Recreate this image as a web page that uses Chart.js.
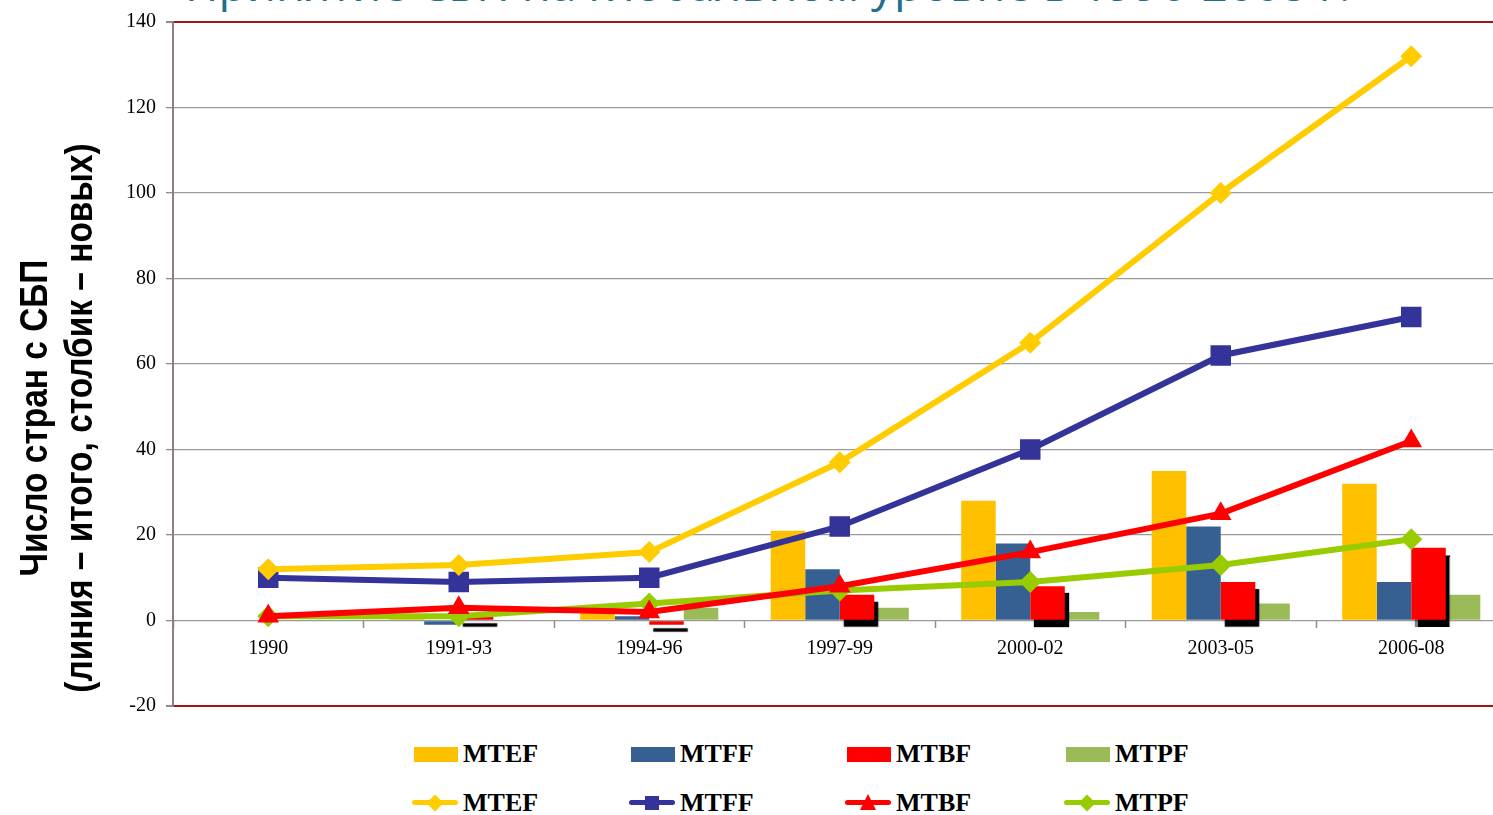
<!DOCTYPE html>
<html>
<head>
<meta charset="utf-8">
<script src="https://cdn.jsdelivr.net/npm/chart.js@4.4.1/dist/chart.umd.min.js"></script>
<style>
  body { margin: 0; width: 1493px; height: 815px; overflow: hidden; background: #fff; position: relative; }
  #myChart { position: absolute; left: 0; top: 0; }
  #title { position: absolute; left: 185px; top: -40px; font: 46px/46px "Open Sans", sans-serif; color: #1f6f8f; white-space: nowrap; }
  #ytitle { position: absolute; left: 57px; top: 418px; width: 700px; text-align: center; font: bold 38px/45px "Liberation Sans", Arial, sans-serif; color: #000; white-space: nowrap;
            transform: translate(-50%, -50%) rotate(-90deg) scaleX(0.88); }
  .leg { position: absolute; font: bold 26px "Liberation Serif", serif; color: #000; }
  .leg .txt { position: absolute; left: 49px; top: -15px; white-space: nowrap; }
  .sw { position: absolute; left: 0; top: -7px; width: 44px; height: 15px; }
  .ln { position: absolute; left: 0; top: -3px; width: 46px; height: 5px; border-radius: 3px; }
  .mk { position: absolute; }
</style>
</head>
<body>
<div id="title">Принятие СБП на глобальном уровне в 1990-2008 г.</div>
<canvas id="myChart" width="1521" height="728"></canvas>
<div id="ytitle">Число стран с СБП<br>(линия – итого, столбик – новых)</div>
<div id="legend"></div>
<script>
const ctx = document.querySelector('#myChart')

const periods = ['1990', '1991-93', '1994-96', '1997-99', '2000-02', '2003-05', '2006-08']
const seriesNames = ['MTEF', 'MTFF', 'MTBF', 'MTPF']

// столбики - новые страны
const newMTEF = [null, 1, 3, 21, 28, 35, 32]
const newMTFF = [null, -1, 1, 12, 18, 22, 9]
const newMTBF = [null, 1, -1, 6, 8, 9, 17]
const newMTPF = [null, 0, 3, 3, 2, 4, 6]

// линии - итого
const totalMTEF = [12, 13, 16, 37, 65, 100, 132]
const totalMTFF = [10, 9, 10, 22, 40, 62, 71]
const totalMTBF = [1, 3, 2, 8, 16, 25, 42]
const totalMTPF = [1, 1, 4, 7, 9, 13, 19]

const yTicks = [-20, 0, 20, 40, 60, 80, 100, 120, 140]

const barColors = ['#ffc000', '#376092', '#ff0000', '#9bbb59']
const lineColors = ['#ffcc00', '#333399', '#ff0000', '#99cc00']
const pointStyles = ['rectRot', 'rect', 'triangle', 'rectRot']
const pointSizes = [11, 14.5, 12.5, 11]

const newData = [newMTEF, newMTFF, newMTBF, newMTPF]
const totalData = [totalMTEF, totalMTFF, totalMTBF, totalMTPF]

let datasets = []
seriesNames.forEach((name, i) => {
    datasets.push({
        type: 'bar',
        label: name,
        data: newData[i],
        backgroundColor: barColors[i],
        borderWidth: 0,
        categoryPercentage: 0.725,
        barPercentage: 1,
        order: 2
    })
})
seriesNames.forEach((name, i) => {
    datasets.push({
        type: 'line',
        label: name,
        data: totalData[i],
        borderColor: lineColors[i],
        backgroundColor: lineColors[i],
        borderWidth: 6,
        pointStyle: pointStyles[i],
        pointRadius: pointSizes[i],
        pointBorderWidth: 0,
        tension: 0,
        fill: false,
        order: 1
    })
})

// тень у красных столбиков
const barShadow = {
    id: 'barShadow',
    beforeDatasetDraw(chart, args) {
        if (args.index === 2) {
            chart.ctx.save()
            chart.ctx.shadowColor = 'rgba(0,0,0,1)'
            chart.ctx.shadowOffsetX = 4
            chart.ctx.shadowOffsetY = 7
            chart.ctx.shadowBlur = 1
        }
    },
    afterDatasetDraw(chart, args) {
        if (args.index === 2) chart.ctx.restore()
    }
}

const tickFont = { family: 'Liberation Serif', size: 20 }

new Chart(ctx, {
    data: { labels: periods, datasets: datasets },
    plugins: [barShadow],
    options: {
        responsive: false,
        devicePixelRatio: 1,
        animation: false,
        layout: { padding: { top: 8, right: 3, bottom: 3, left: 0 } },
        plugins: {
            legend: { display: false },
            tooltip: { enabled: false }
        },
        scales: {
            x: {
                type: 'category',
                offset: true,
                position: { y: 0 },
                border: { display: false },
                grid: { drawOnChartArea: false, offset: true, tickLength: 7, tickColor: '#8c8c8c', tickWidth: 1.5 },
                ticks: { font: tickFont, color: '#000', padding: 9, maxRotation: 0 }
            },
            y: {
                min: -20,
                max: 140,
                afterBuildTicks: (scale) => { scale.ticks = yTicks.map(v => ({ value: v })) },
                afterFit: (scale) => { scale.width = 173 },
                border: { color: '#8c7f7f', width: 2 },
                grid: {
                    color: (c) => (c.tick && (c.tick.value === 140 || c.tick.value === -20)) ? '#a31515' : '#9a9a9a',
                    lineWidth: (c) => (c.tick && (c.tick.value === 140 || c.tick.value === -20)) ? 2 : 1.3,
                    tickLength: 7,
                    tickColor: '#8c8c8c'
                },
                ticks: { font: tickFont, color: '#000', padding: 10 }
            }
        }
    }
})

// легенда
const legend = document.querySelector('#legend')
const colX = [414, 631, 847, 1066]
seriesNames.forEach((name, i) => {
    let a = document.createElement('div')
    a.className = 'leg'
    a.style.left = colX[i] + 'px'
    a.style.top = '754px'
    a.innerHTML = '<div class="sw" style="background:' + barColors[i] + '"></div><div class="txt">' + name + '</div>'
    legend.appendChild(a)

    let b = document.createElement('div')
    b.className = 'leg'
    b.style.left = (colX[i] - 2) + 'px'
    b.style.top = '803px'
    let mk = ''
    if (pointStyles[i] === 'rectRot') {
        mk = '<div class="mk" style="left:17px;top:-6px;width:12px;height:12px;transform:rotate(45deg);background:' + lineColors[i] + '"></div>'
    } else if (pointStyles[i] === 'rect') {
        mk = '<div class="mk" style="left:16px;top:-7px;width:14px;height:14px;background:' + lineColors[i] + '"></div>'
    } else {
        mk = '<div class="mk" style="left:15px;top:-9px;width:0;height:0;border-left:8px solid transparent;border-right:8px solid transparent;border-bottom:16px solid ' + lineColors[i] + '"></div>'
    }
    b.innerHTML = '<div class="ln" style="background:' + lineColors[i] + '"></div>' + mk + '<div class="txt" style="left:51px">' + name + '</div>'
    legend.appendChild(b)
})
</script>
</body>
</html>
